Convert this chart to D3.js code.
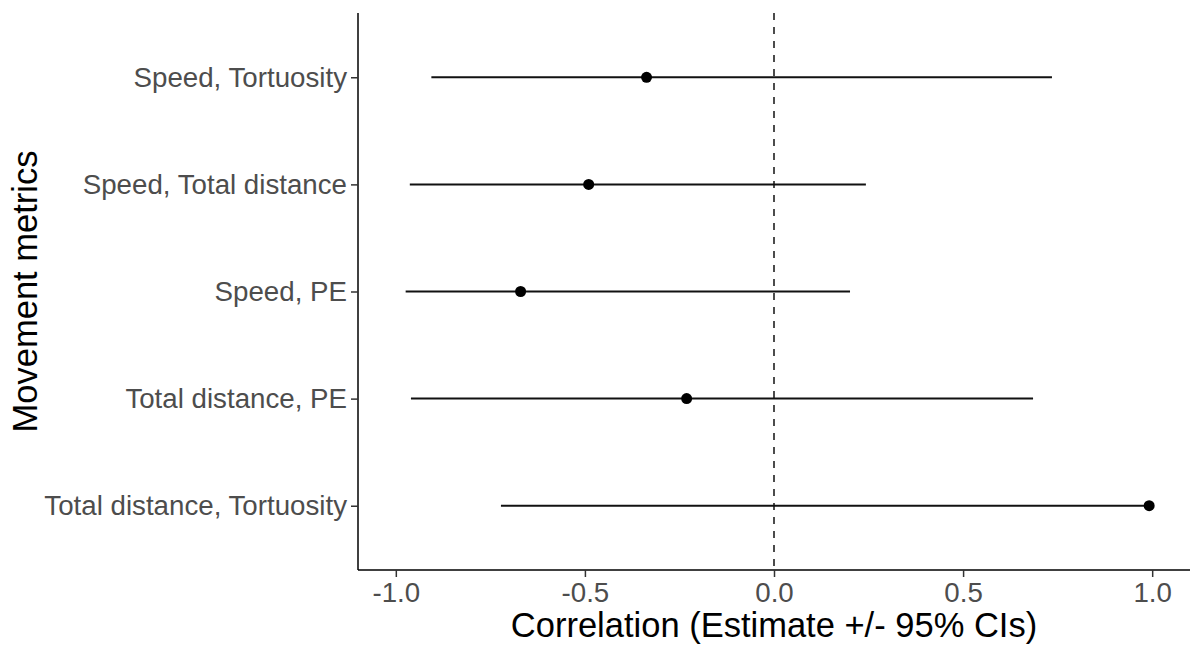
<!DOCTYPE html>
<html>
<head>
<meta charset="utf-8">
<title>Movement metric correlations</title>
<script src="https://cdn.jsdelivr.net/npm/d3@7"></script>
<style type="text/css">
body { margin: 0; background: #fff; }
svg { font-family: "Liberation Sans", Arial, sans-serif; }
</style>
</head>
<body>
<div id="chart"></div>
<script type="text/javascript">
// metric pairs, top to bottom
var pairs = ["Speed, Tortuosity", "Speed, Total distance", "Speed, PE", "Total distance, PE", "Total distance, Tortuosity"];
var estimate = [-0.337, -0.490, -0.670, -0.231, 0.992];
var lower = [-0.906, -0.963, -0.974, -0.960, -0.722];
var upper = [0.735, 0.243, 0.201, 0.685, 0.999];
var xTicks = [-1.0, -0.5, 0.0, 0.5, 1.0];

var W = 1192, H = 645;
var m = {left: 358, right: 2, top: 13, bottom: 75};

var svg = d3.select("#chart").append("svg")
  .attr("width", W).attr("height", H);

var x = d3.scaleLinear().domain([-1.1, 1.1]).range([m.left, W - m.right]);
var y = d3.scalePoint().domain(pairs).range([m.top, H - m.bottom]).padding(0.6);

/* zero reference line */
svg.append("line")
  .attr("x1", x(0)).attr("x2", x(0))
  .attr("y1", m.top).attr("y2", H - m.bottom)
  .attr("stroke", "#000").attr("stroke-width", 1.4)
  .attr("stroke-dasharray", "7,7");

var rows = pairs.map(function(p, i) {
  return {name: p, est: estimate[i], lo: lower[i], hi: upper[i]};
});

svg.selectAll("line.ci").data(rows).enter().append("line")
  .attr("class", "ci")
  .attr("x1", function(d) { return x(d.lo); })
  .attr("x2", function(d) { return x(d.hi); })
  .attr("y1", function(d) { return y(d.name); })
  .attr("y2", function(d) { return y(d.name); })
  .attr("stroke", "#111").attr("stroke-width", 2);

svg.selectAll("circle").data(rows).enter().append("circle")
  .attr("cx", function(d) { return x(d.est); })
  .attr("cy", function(d) { return y(d.name); })
  .attr("r", 5.5).attr("fill", "#000");

/* axes */
var fmt = function(d) { return d3.format(".1f")(d).replace("\u2212", "-"); };
var xAxis = svg.append("g")
  .attr("transform", "translate(0," + (H - m.bottom) + ")")
  .call(d3.axisBottom(x).tickValues(xTicks).tickFormat(fmt).tickSizeOuter(0).tickSize(7).tickPadding(5));
var yAxis = svg.append("g")
  .attr("transform", "translate(" + m.left + ",0)")
  .call(d3.axisLeft(y).tickSizeOuter(0).tickSize(7).tickPadding(4));

[xAxis, yAxis].forEach(function(a) {
  a.select(".domain").attr("stroke", "#000").attr("stroke-width", 1.5)
  a.selectAll(".tick line").attr("stroke", "#333").attr("stroke-width", 1.5);
  a.selectAll(".tick text").attr("fill", "#4d4d4d").style("font-size", "27.7px");
});
// domain should span the whole panel
xAxis.select(".domain").attr("d", "M" + m.left + ",0H" + (W - m.right));
yAxis.select(".domain").attr("d", "M0," + m.top + "V" + (H - m.bottom));

svg.append("text")
  .attr("x", (m.left + W - m.right) / 2).attr("y", 637)
  .attr("text-anchor", "middle")
  .style("font-size", "34.5px").attr("fill", "#000")
  .text("Correlation (Estimate +/- 95% CIs)");

svg.append("text")
  .attr("transform", "translate(37," + ((m.top + H - m.bottom) / 2) + ") rotate(-90)")
  .attr("text-anchor", "middle")
  .style("font-size", "34.5px").attr("fill", "#000")
  .text("Movement metrics");
</script>
</body>
</html>
